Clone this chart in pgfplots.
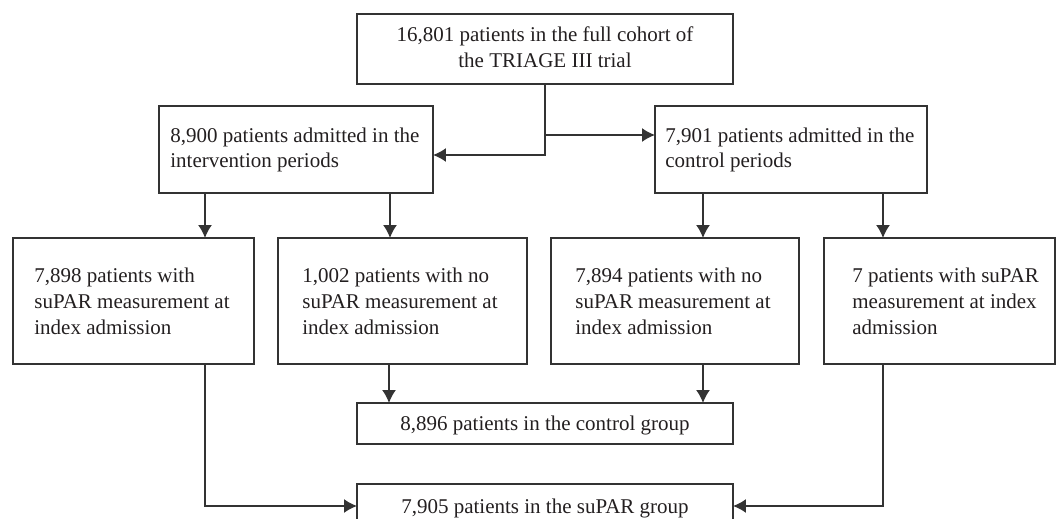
\documentclass[border=0pt]{standalone}
\usepackage{pgfplots}
\pgfplotsset{compat=1.18}
\usepackage{fontspec}
\setmainfont{Liberation Serif}
\usetikzlibrary{arrows.meta}
\newcommand\fs{\fontsize{10.5bp}{12.5bp}\selectfont}
\definecolor{ln}{HTML}{333333}
\definecolor{tx}{HTML}{231F20}
\tikzset{
  ar/.style={ln, solid, line width=0.75pt, -{Latex[length=6.5pt,width=7pt]}},
  bx/.style={ln, solid, line width=0.75pt},
  tl/.style={anchor=base west, inner sep=0pt, font=\fs, text=tx},
  tc/.style={anchor=base, inner sep=0pt, font=\fs, text=tx},
}
\begin{document}
\begin{tikzpicture}
\begin{axis}[width=528.5bp, height=259.5bp, scale only axis,
  xmin=0, xmax=1057, ymin=0, ymax=519, y dir=reverse, hide axis, clip=true,
  cycle list={{ln,solid,mark=none}},
]
% boxes
\addplot[bx] coordinates {(357,14) (733,14) (733,84) (357,84)} --cycle;
\addplot[bx] coordinates {(159,106) (433,106) (433,193) (159,193)} --cycle;
\addplot[bx] coordinates {(655,106) (927,106) (927,193) (655,193)} --cycle;
\addplot[bx] coordinates {(13,238) (254,238) (254,364) (13,364)} --cycle;
\addplot[bx] coordinates {(278,238) (527,238) (527,364) (278,364)} --cycle;
\addplot[bx] coordinates {(551,238) (799,238) (799,364) (551,364)} --cycle;
\addplot[bx] coordinates {(824,238) (1055,238) (1055,364) (824,364)} --cycle;
\addplot[bx] coordinates {(357,403) (733,403) (733,444) (357,444)} --cycle;
\addplot[bx] coordinates {(357,484) (733,484) (733,540) (357,540)} --cycle;
% arrows
\addplot[ar] coordinates {(545,84) (545,155) (433,155)};
\addplot[ar] coordinates {(545,135) (655,135)};
\addplot[ar] coordinates {(205,193) (205,238)};
\addplot[ar] coordinates {(390,193) (390,238)};
\addplot[ar] coordinates {(703,193) (703,238)};
\addplot[ar] coordinates {(883,193) (883,238)};
\addplot[ar] coordinates {(389,364) (389,403)};
\addplot[ar] coordinates {(703,364) (703,403)};
\addplot[ar] coordinates {(205,364) (205,506) (357,506)};
\addplot[ar] coordinates {(883,364) (883,506) (733,506)};
% texts
\node[tc] at (axis cs:545,42) {16,801 patients in the full cohort of};
\node[tc] at (axis cs:545,67) {the TRIAGE III trial};
\node[tl] at (axis cs:170,142) {8,900 patients admitted in the};
\node[tl] at (axis cs:170,167) {intervention periods};
\node[tl] at (axis cs:665,142) {7,901 patients admitted in the};
\node[tl] at (axis cs:665,167) {control periods};
\node[tl] at (axis cs:34,282) {7,898 patients with};
\node[tl] at (axis cs:34,308) {suPAR measurement at};
\node[tl] at (axis cs:34,334) {index admission};
\node[tl] at (axis cs:302,282) {1,002 patients with no};
\node[tl] at (axis cs:302,308) {suPAR measurement at};
\node[tl] at (axis cs:302,334) {index admission};
\node[tl] at (axis cs:575,282) {7,894 patients with no};
\node[tl] at (axis cs:575,308) {suPAR measurement at};
\node[tl] at (axis cs:575,334) {index admission};
\node[tl] at (axis cs:852,282) {7 patients with suPAR};
\node[tl] at (axis cs:852,308) {measurement at index};
\node[tl] at (axis cs:852,334) {admission};
\node[tc] at (axis cs:545,430) {8,896 patients in the control group};
\node[tc] at (axis cs:545,513) {7,905 patients in the suPAR group};
\end{axis}
\path (current axis.south west) rectangle (current axis.north east);
\end{tikzpicture}
\end{document}
